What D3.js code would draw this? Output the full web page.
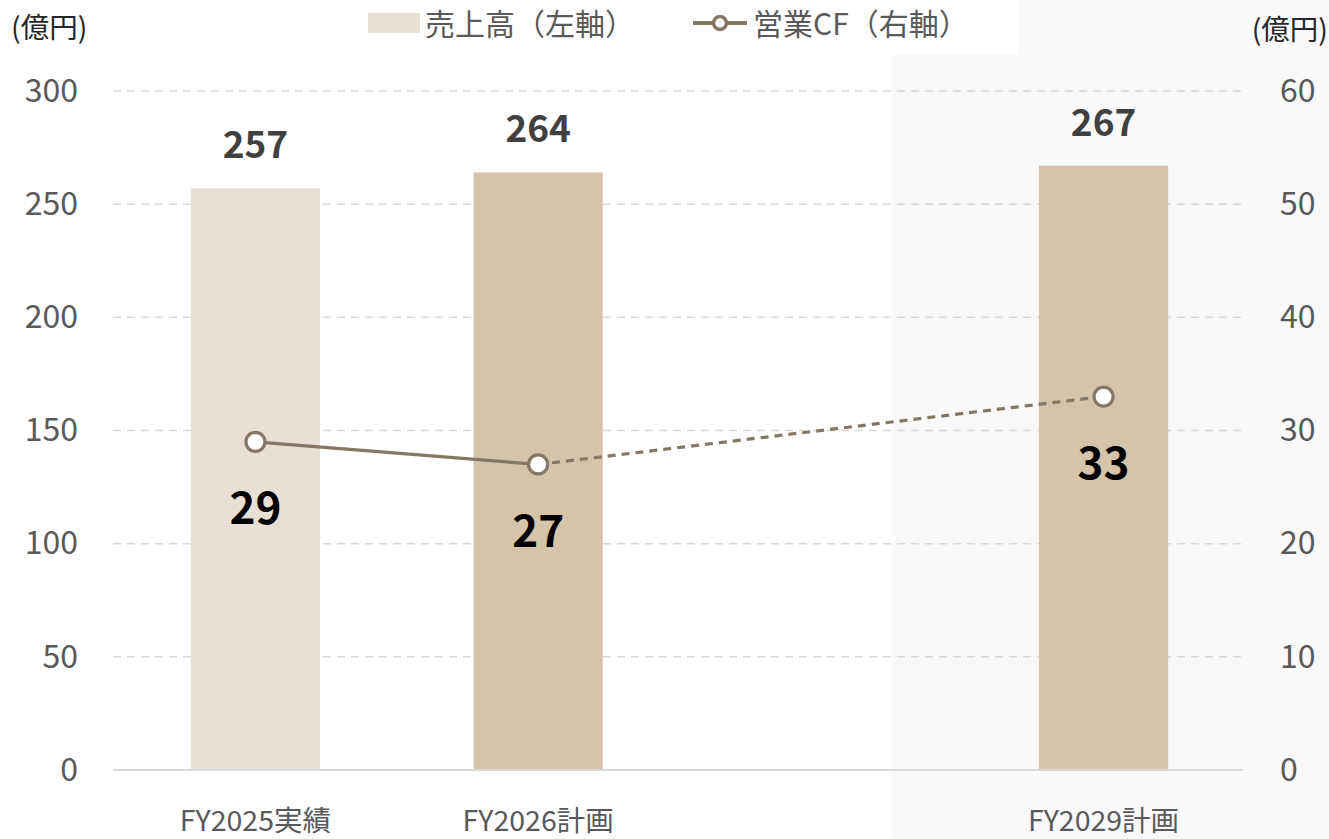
<!DOCTYPE html>
<html>
<head>
<meta charset="utf-8">
<script src="https://cdn.jsdelivr.net/npm/d3@7"></script>
<style>
  body { margin: 0; background: #fff; }
  text { font-family: "Noto Sans CJK JP", "Noto Sans", sans-serif; }
</style>
</head>
<body>
<div id="chart"></div>
<script>
const categories = ["FY2025実績", "FY2026計画", "", "FY2029計画"];
const barCategories = ["FY2025実績", "FY2026計画", "FY2029計画"];
const salesValues = [257, 264, 267];
const cfValues = [29, 27, 33];
const leftTicks = [0, 50, 100, 150, 200, 250, 300];
const rightTicks = [0, 10, 20, 30, 40, 50, 60];

const width = 1329, height = 839;
const margin = { top: 91, right: 86, bottom: 69, left: 113 };

const svg = d3.select("#chart").append("svg")
  .attr("width", width).attr("height", height);

const x = d3.scaleBand().domain(categories)
  .range([margin.left + 1.5, width - margin.right + 1.5]).paddingInner(0.543).paddingOuter(0.27);
const yL = d3.scaleLinear().domain([0, 300]).range([height - margin.bottom, margin.top]);
const yR = d3.scaleLinear().domain([0, 60]).range(yL.range());

// shaded plan area
svg.append("rect").attr("x", 892).attr("y", 0)
  .attr("width", width - 892).attr("height", height).attr("fill", "#f9f9f9");

// gridlines
svg.append("g").selectAll("line").data(leftTicks.filter(d => d > 0)).join("line")
  .attr("x1", margin.left).attr("x2", width - margin.right)
  .attr("y1", d => yL(d)).attr("y2", d => yL(d))
  .attr("stroke", "#d9d9d9").attr("stroke-width", 1.5).attr("stroke-dasharray", "8,6");

// left axis
const axL = svg.append("g").attr("transform", `translate(${margin.left},0)`)
  .call(d3.axisLeft(yL).tickValues(leftTicks).tickSize(0).tickPadding(35));
axL.select(".domain").remove();
axL.selectAll("text").attr("font-size", 32).attr("fill", "#595959")
  .style("font-family", "'Noto Sans CJK JP', sans-serif");

// right axis
const axR = svg.append("g").attr("transform", `translate(${width - margin.right},0)`)
  .call(d3.axisRight(yR).tickValues(rightTicks).tickSize(0).tickPadding(37));
axR.select(".domain").remove();
axR.selectAll("text").attr("font-size", 32).attr("fill", "#595959")
  .style("font-family", "'Noto Sans CJK JP', sans-serif");

// bars
const barColors = ["#e8e0d5", "#d5c4a9", "#d5c4a9"];
svg.append("g").selectAll("rect").data(salesValues).join("rect")
  .attr("x", (d, i) => x(barCategories[i]))
  .attr("width", x.bandwidth())
  .attr("y", d => yL(d))
  .attr("height", d => yL(0) - yL(d))
  .attr("fill", (d, i) => barColors[i]);

// baseline
svg.append("line").attr("x1", margin.left).attr("x2", width - margin.right)
  .attr("y1", yL(0)).attr("y2", yL(0)).attr("stroke", "#d9d9d9").attr("stroke-width", 2);

// bar labels
svg.append("g").selectAll("text").data(salesValues).join("text")
  .attr("x", (d, i) => x(barCategories[i]) + x.bandwidth() / 2)
  .attr("y", d => yL(d) - 43)
  .attr("dy", "0.35em")
  .attr("text-anchor", "middle").attr("font-size", 37).attr("font-weight", "bold")
  .attr("fill", "#404040").text(d => d);

// x labels
svg.append("g").selectAll("text").data(barCategories).join("text")
  .attr("x", d => x(d) + x.bandwidth() / 2)
  .attr("y", 821).attr("dy", "0.35em")
  .attr("text-anchor", "middle").attr("font-size", 28.5).attr("fill", "#595959")
  .text(d => d);

// CF line
const cx = (i) => x(barCategories[i]) + x.bandwidth() / 2;
const lineColor = "#857766";
const line = d3.line().x(d => cx(d)).y(d => yR(cfValues[d]));
svg.append("path").attr("d", line([0, 1])).attr("fill", "none")
  .attr("stroke", lineColor).attr("stroke-width", 3.2);
svg.append("path").attr("d", line([1, 2])).attr("fill", "none")
  .attr("stroke", lineColor).attr("stroke-width", 3.2).attr("stroke-dasharray", "8,6");
svg.append("g").selectAll("circle").data(cfValues).join("circle")
  .attr("cx", (d, i) => cx(i)).attr("cy", d => yR(d)).attr("r", 9.5)
  .attr("fill", "#fff").attr("stroke", lineColor).attr("stroke-width", 3.2);
svg.append("g").selectAll("text").data(cfValues).join("text")
  .attr("x", (d, i) => cx(i)).attr("y", d => yR(d) + 67).attr("dy", "0.35em")
  .attr("text-anchor", "middle").attr("font-size", 44).attr("font-weight", "bold")
  .attr("fill", "#000").text(d => d);

// unit labels
svg.append("text").attr("x", 11).attr("y", 28).attr("dy", "0.35em")
  .attr("font-size", 28.5).attr("fill", "#262626").text("(億円)");
svg.append("text").attr("x", 1328).attr("y", 30).attr("dy", "0.35em")
  .attr("text-anchor", "end").attr("font-size", 28.5).attr("fill", "#262626").text("(億円)");

// legend
const lg = svg.append("g");
lg.append("rect").attr("x", 350).attr("y", 0).attr("width", 669).attr("height", 55).attr("fill", "#fff");
lg.append("rect").attr("x", 368).attr("y", 13).attr("width", 52).attr("height", 20).attr("fill", "#e8e0d5");
lg.append("text").attr("x", 425).attr("y", 24).attr("dy", "0.35em")
  .attr("font-size", 30).attr("fill", "#595959").text("売上高（左軸）");
lg.append("line").attr("x1", 693).attr("x2", 747).attr("y1", 23).attr("y2", 23)
  .attr("stroke", lineColor).attr("stroke-width", 4);
lg.append("circle").attr("cx", 720).attr("cy", 23).attr("r", 6.5)
  .attr("fill", "#fff").attr("stroke", lineColor).attr("stroke-width", 3.5);
lg.append("text").attr("x", 753).attr("y", 24).attr("dy", "0.35em")
  .attr("font-size", 30).attr("fill", "#595959").text("営業CF（右軸）");
</script>
</body>
</html>
